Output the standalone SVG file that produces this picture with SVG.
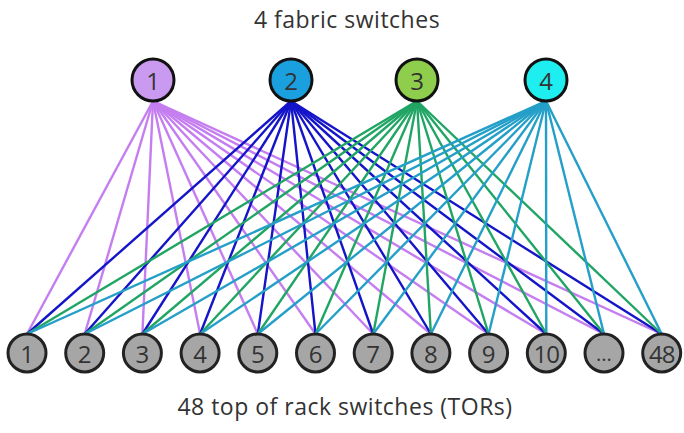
<svg xmlns="http://www.w3.org/2000/svg" width="684" height="433" viewBox="0 0 684 433">
<style>
.lbl{font-family:"Open Sans","Liberation Sans",sans-serif;fill:#333;font-size:23px;letter-spacing:0.5px;text-anchor:middle}
.num{font-family:"Open Sans","Liberation Sans",sans-serif;fill:#333;font-size:24px;text-anchor:middle;dominant-baseline:central}
.fab circle{stroke:#111;stroke-width:3}
.tor circle{fill:#a6a6a6;stroke:#222;stroke-width:3}
.l1{stroke:#c57ef0}.l2{stroke:#1414c8}.l3{stroke:#20a564}.l4{stroke:#249fc8}
#links line{stroke-width:2.4}
</style>
<rect width="684" height="433" fill="#fff"/>
<text class="lbl" x="347" y="28">4 fabric switches</text>
<text class="lbl" x="345" y="415">48 top of rack switches (TORs)</text>
<g id="links">
<g class="l1">
<line x1="153" y1="101" x2="27" y2="334"/><line x1="153" y1="101" x2="84.7" y2="334"/><line x1="153" y1="101" x2="142.4" y2="334"/><line x1="153" y1="101" x2="200.1" y2="334"/><line x1="153" y1="101" x2="257.8" y2="334"/><line x1="153" y1="101" x2="315.5" y2="334"/><line x1="153" y1="101" x2="373.2" y2="334"/><line x1="153" y1="101" x2="430.9" y2="334"/><line x1="153" y1="101" x2="488.6" y2="334"/><line x1="153" y1="101" x2="546.3" y2="334"/><line x1="153" y1="101" x2="604" y2="334"/><line x1="153" y1="101" x2="661.7" y2="334"/>
</g>
<g class="l2">
<line x1="291" y1="101" x2="27" y2="334"/><line x1="291" y1="101" x2="84.7" y2="334"/><line x1="291" y1="101" x2="142.4" y2="334"/><line x1="291" y1="101" x2="200.1" y2="334"/><line x1="291" y1="101" x2="257.8" y2="334"/><line x1="291" y1="101" x2="315.5" y2="334"/><line x1="291" y1="101" x2="373.2" y2="334"/><line x1="291" y1="101" x2="430.9" y2="334"/><line x1="291" y1="101" x2="488.6" y2="334"/><line x1="291" y1="101" x2="546.3" y2="334"/><line x1="291" y1="101" x2="604" y2="334"/><line x1="291" y1="101" x2="661.7" y2="334"/>
</g>
<g class="l3">
<line x1="417" y1="101" x2="27" y2="334"/><line x1="417" y1="101" x2="84.7" y2="334"/><line x1="417" y1="101" x2="142.4" y2="334"/><line x1="417" y1="101" x2="200.1" y2="334"/><line x1="417" y1="101" x2="257.8" y2="334"/><line x1="417" y1="101" x2="315.5" y2="334"/><line x1="417" y1="101" x2="373.2" y2="334"/><line x1="417" y1="101" x2="430.9" y2="334"/><line x1="417" y1="101" x2="488.6" y2="334"/><line x1="417" y1="101" x2="546.3" y2="334"/><line x1="417" y1="101" x2="604" y2="334"/><line x1="417" y1="101" x2="661.7" y2="334"/>
</g>
<g class="l4">
<line x1="546" y1="101" x2="27" y2="334"/><line x1="546" y1="101" x2="84.7" y2="334"/><line x1="546" y1="101" x2="142.4" y2="334"/><line x1="546" y1="101" x2="200.1" y2="334"/><line x1="546" y1="101" x2="257.8" y2="334"/><line x1="546" y1="101" x2="315.5" y2="334"/><line x1="546" y1="101" x2="373.2" y2="334"/><line x1="546" y1="101" x2="430.9" y2="334"/><line x1="546" y1="101" x2="488.6" y2="334"/><line x1="546" y1="101" x2="546.3" y2="334"/><line x1="546" y1="101" x2="604" y2="334"/><line x1="546" y1="101" x2="661.7" y2="334"/>
</g>
</g>
<g id="fabric-1" class="fab"><circle cx="153" cy="80" r="21" fill="#c99af0"/><text class="num" x="153" y="80">1</text></g>
<g id="fabric-2" class="fab"><circle cx="291" cy="80" r="21" fill="#1ba0df"/><text class="num" x="291" y="80">2</text></g>
<g id="fabric-3" class="fab"><circle cx="417" cy="80" r="21" fill="#8fce4c"/><text class="num" x="417" y="80">3</text></g>
<g id="fabric-4" class="fab"><circle cx="546" cy="80" r="21" fill="#1eeef0"/><text class="num" x="546" y="80">4</text></g>
<g id="tor-1" class="tor"><circle cx="27" cy="353" r="19"/><text class="num" x="27" y="353">1</text></g>
<g id="tor-2" class="tor"><circle cx="84.7" cy="353" r="19"/><text class="num" x="84.7" y="353">2</text></g>
<g id="tor-3" class="tor"><circle cx="142.4" cy="353" r="19"/><text class="num" x="142.4" y="353">3</text></g>
<g id="tor-4" class="tor"><circle cx="200.1" cy="353" r="19"/><text class="num" x="200.1" y="353">4</text></g>
<g id="tor-5" class="tor"><circle cx="257.8" cy="353" r="19"/><text class="num" x="257.8" y="353">5</text></g>
<g id="tor-6" class="tor"><circle cx="315.5" cy="353" r="19"/><text class="num" x="315.5" y="353">6</text></g>
<g id="tor-7" class="tor"><circle cx="373.2" cy="353" r="19"/><text class="num" x="373.2" y="353">7</text></g>
<g id="tor-8" class="tor"><circle cx="430.9" cy="353" r="19"/><text class="num" x="430.9" y="353">8</text></g>
<g id="tor-9" class="tor"><circle cx="488.6" cy="353" r="19"/><text class="num" x="488.6" y="353">9</text></g>
<g id="tor-10" class="tor"><circle cx="546.3" cy="353" r="19"/><text class="num" x="546.3" y="353" style="letter-spacing:-1px">10</text></g>
<g id="tor-more" class="tor"><circle cx="604" cy="353" r="19"/><text class="num" x="604" y="353" style="font-size:20px">...</text></g>
<g id="tor-48" class="tor"><circle cx="661.7" cy="353" r="19"/><text class="num" x="661.7" y="353" style="letter-spacing:-1px">48</text></g>
</svg>
